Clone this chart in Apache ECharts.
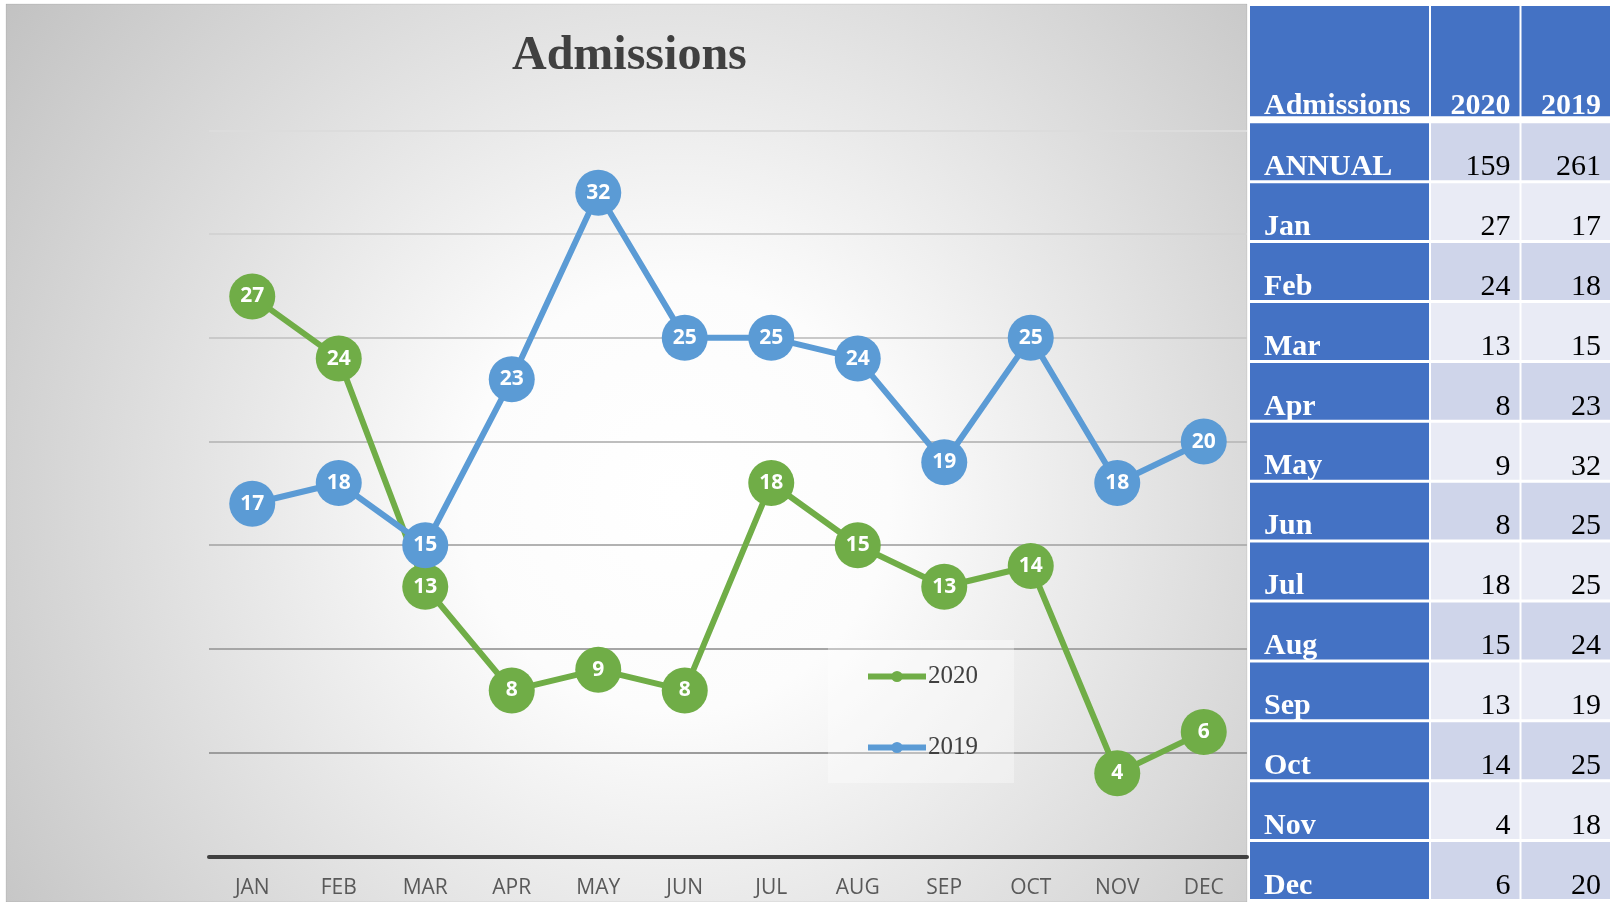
<!DOCTYPE html>
<html>
<head>
<meta charset="utf-8">
<script src="https://cdn.jsdelivr.net/npm/echarts@6/dist/echarts.min.js"></script>
<style>
  html, body { margin: 0; padding: 0; background: #ffffff; }
  #chart { width: 1612px; height: 902px; }
</style>
</head>
<body>
<div id="chart"></div>
<script>
// ---- data ----
const months = ['JAN', 'FEB', 'MAR', 'APR', 'MAY', 'JUN', 'JUL', 'AUG', 'SEP', 'OCT', 'NOV', 'DEC'];
const admissions2020 = [27, 24, 13, 8, 9, 8, 18, 15, 13, 14, 4, 6];
const admissions2019 = [17, 18, 15, 23, 32, 25, 25, 24, 19, 25, 18, 20];
const seriesNames = ['2020', '2019'];
const tableHeader = ['Admissions', '2020', '2019'];
const tableRowLabels = ['ANNUAL', 'Jan', 'Feb', 'Mar', 'Apr', 'May', 'Jun', 'Jul', 'Aug', 'Sep', 'Oct', 'Nov', 'Dec'];
const annualTotals = [159, 261];

// ---- build table cells ----
const cells = [];
tableHeader.forEach((t, c) => cells.push({ c: c, r: -1, text: t, kind: 'head' }));
tableRowLabels.forEach((lab, r) => {
  cells.push({ c: 0, r: r, text: lab, kind: 'label' });
  const v20 = r === 0 ? annualTotals[0] : admissions2020[r - 1];
  const v19 = r === 0 ? annualTotals[1] : admissions2019[r - 1];
  cells.push({ c: 1, r: r, text: String(v20), kind: 'num' });
  cells.push({ c: 2, r: r, text: String(v19), kind: 'num' });
});
const colEdges = [0, 2, 3, 4];

const chart = echarts.init(document.getElementById('chart'), null, { renderer: 'canvas' });

const gridColors = ['rgba(0,0,0,0)', '#9c9c9c', '#a6a6a6', '#b2b2b2', '#bebebe', '#c9c9c9', '#d3d3d3', '#dcdcdc'];

const option = {
  animation: false,
  backgroundColor: '#ffffff',
  graphic: [{
    type: 'rect',
    z: -100,
    shape: { x: 6, y: 4, width: 1241, height: 898 },
    style: {
      fill: new echarts.graphic.RadialGradient(0.54, 0.55, 0.95, [
        { offset: 0, color: '#ffffff' },
        { offset: 0.25, color: '#fcfcfc' },
        { offset: 1, color: '#c0c0c0' }
      ]),
      stroke: 'rgba(0,0,0,0.08)',
      lineWidth: 1
    }
  }],
  title: {
    text: 'Admissions',
    left: 512,
    top: 33,
    padding: 0,
    textStyle: { fontFamily: 'Liberation Serif', fontSize: 48, fontWeight: 'bold', color: '#404040' }
  },
  legend: {
    orient: 'vertical',
    left: 828,
    top: 640,
    padding: [24, 36, 23, 37],
    backgroundColor: 'rgba(255,255,255,0.35)',
    itemWidth: 58,
    itemHeight: 14,
    itemGap: 46,
    data: seriesNames,
    lineStyle: { width: 6 },
    textStyle: { fontFamily: 'Liberation Serif', fontSize: 25, color: '#404040', padding: [0, 0, 0, -3] }
  },
  grid: [
    { left: 209, right: 365, top: 130.5, bottom: 45.7 },
    { left: 1250, width: 368, top: 3.5, height: 903.75 }
  ],
  xAxis: [
    {
      type: 'category',
      gridIndex: 0,
      data: months,
      boundaryGap: true,
      axisLine: { show: true, lineStyle: { color: '#404040', width: 4 } },
      axisTick: { show: false },
      axisLabel: { color: '#595959', fontFamily: 'Open Sans', fontSize: 21, margin: 21 }
    },
    { type: 'value', gridIndex: 1, min: 0, max: 4, show: false }
  ],
  yAxis: [
    {
      type: 'value',
      gridIndex: 0,
      min: 0,
      max: 35,
      interval: 5,
      axisLabel: { show: false },
      axisLine: { show: false },
      axisTick: { show: false },
      splitLine: { show: true, lineStyle: { color: gridColors, width: 2 } }
    },
    { type: 'value', gridIndex: 1, min: 0, max: 15, inverse: true, show: false }
  ],
  series: [
    {
      name: seriesNames[0],
      type: 'line',
      xAxisIndex: 0, yAxisIndex: 0,
      data: admissions2020,
      symbol: 'circle',
      symbolSize: 46,
      lineStyle: { color: '#70AD47', width: 6 },
      itemStyle: { color: '#70AD47' },
      label: { show: true, position: 'inside', color: '#ffffff', fontFamily: 'Open Sans', fontWeight: 'bold', fontSize: 21 }
    },
    {
      name: seriesNames[1],
      type: 'line',
      xAxisIndex: 0, yAxisIndex: 0,
      data: admissions2019,
      symbol: 'circle',
      symbolSize: 46,
      lineStyle: { color: '#5B9BD5', width: 6 },
      itemStyle: { color: '#5B9BD5' },
      label: { show: true, position: 'inside', color: '#ffffff', fontFamily: 'Open Sans', fontWeight: 'bold', fontSize: 21 }
    },
    {
      name: 'table',
      type: 'custom',
      xAxisIndex: 1, yAxisIndex: 1,
      clip: false,
      silent: true,
      data: cells.map(d => [d.c, d.r]),
      renderItem: function (params, api) {
        const d = cells[params.dataIndex];
        const x0 = api.coord([colEdges[d.c], 0])[0];
        const x1 = api.coord([colEdges[d.c + 1], 0])[0] - 2;
        let y0, y1, ty;
        if (d.r < 0) {
          y0 = api.coord([0, 0])[1] + 2.5;
          y1 = api.coord([0, 2])[1] - 7;
          ty = y1 + 5;
        } else {
          y0 = api.coord([0, d.r + 2])[1];
          y1 = api.coord([0, d.r + 3])[1] - 3;
          ty = y1 + 2;
        }
        let fill, textColor, font, align, tx;
        if (d.kind === 'head' || d.kind === 'label') {
          fill = '#4472C4';
          textColor = '#ffffff';
          font = 'bold 30px "Liberation Serif"';
        } else {
          fill = (d.r % 2 === 0) ? '#CFD5EA' : '#E9EBF5';
          textColor = '#000000';
          font = '30px "Liberation Serif"';
        }
        if (d.c === 0) { align = 'left'; tx = x0 + 14; }
        else { align = 'right'; tx = x1 - 9; }
        return {
          type: 'group',
          children: [
            { type: 'rect', shape: { x: x0, y: y0, width: x1 - x0, height: y1 - y0 }, style: { fill: fill } },
            { type: 'text', style: { text: d.text, x: tx, y: ty, fill: textColor, font: font, align: align, verticalAlign: 'bottom' } }
          ]
        };
      }
    }
  ]
};
chart.setOption(option);
</script>
</body>
</html>
